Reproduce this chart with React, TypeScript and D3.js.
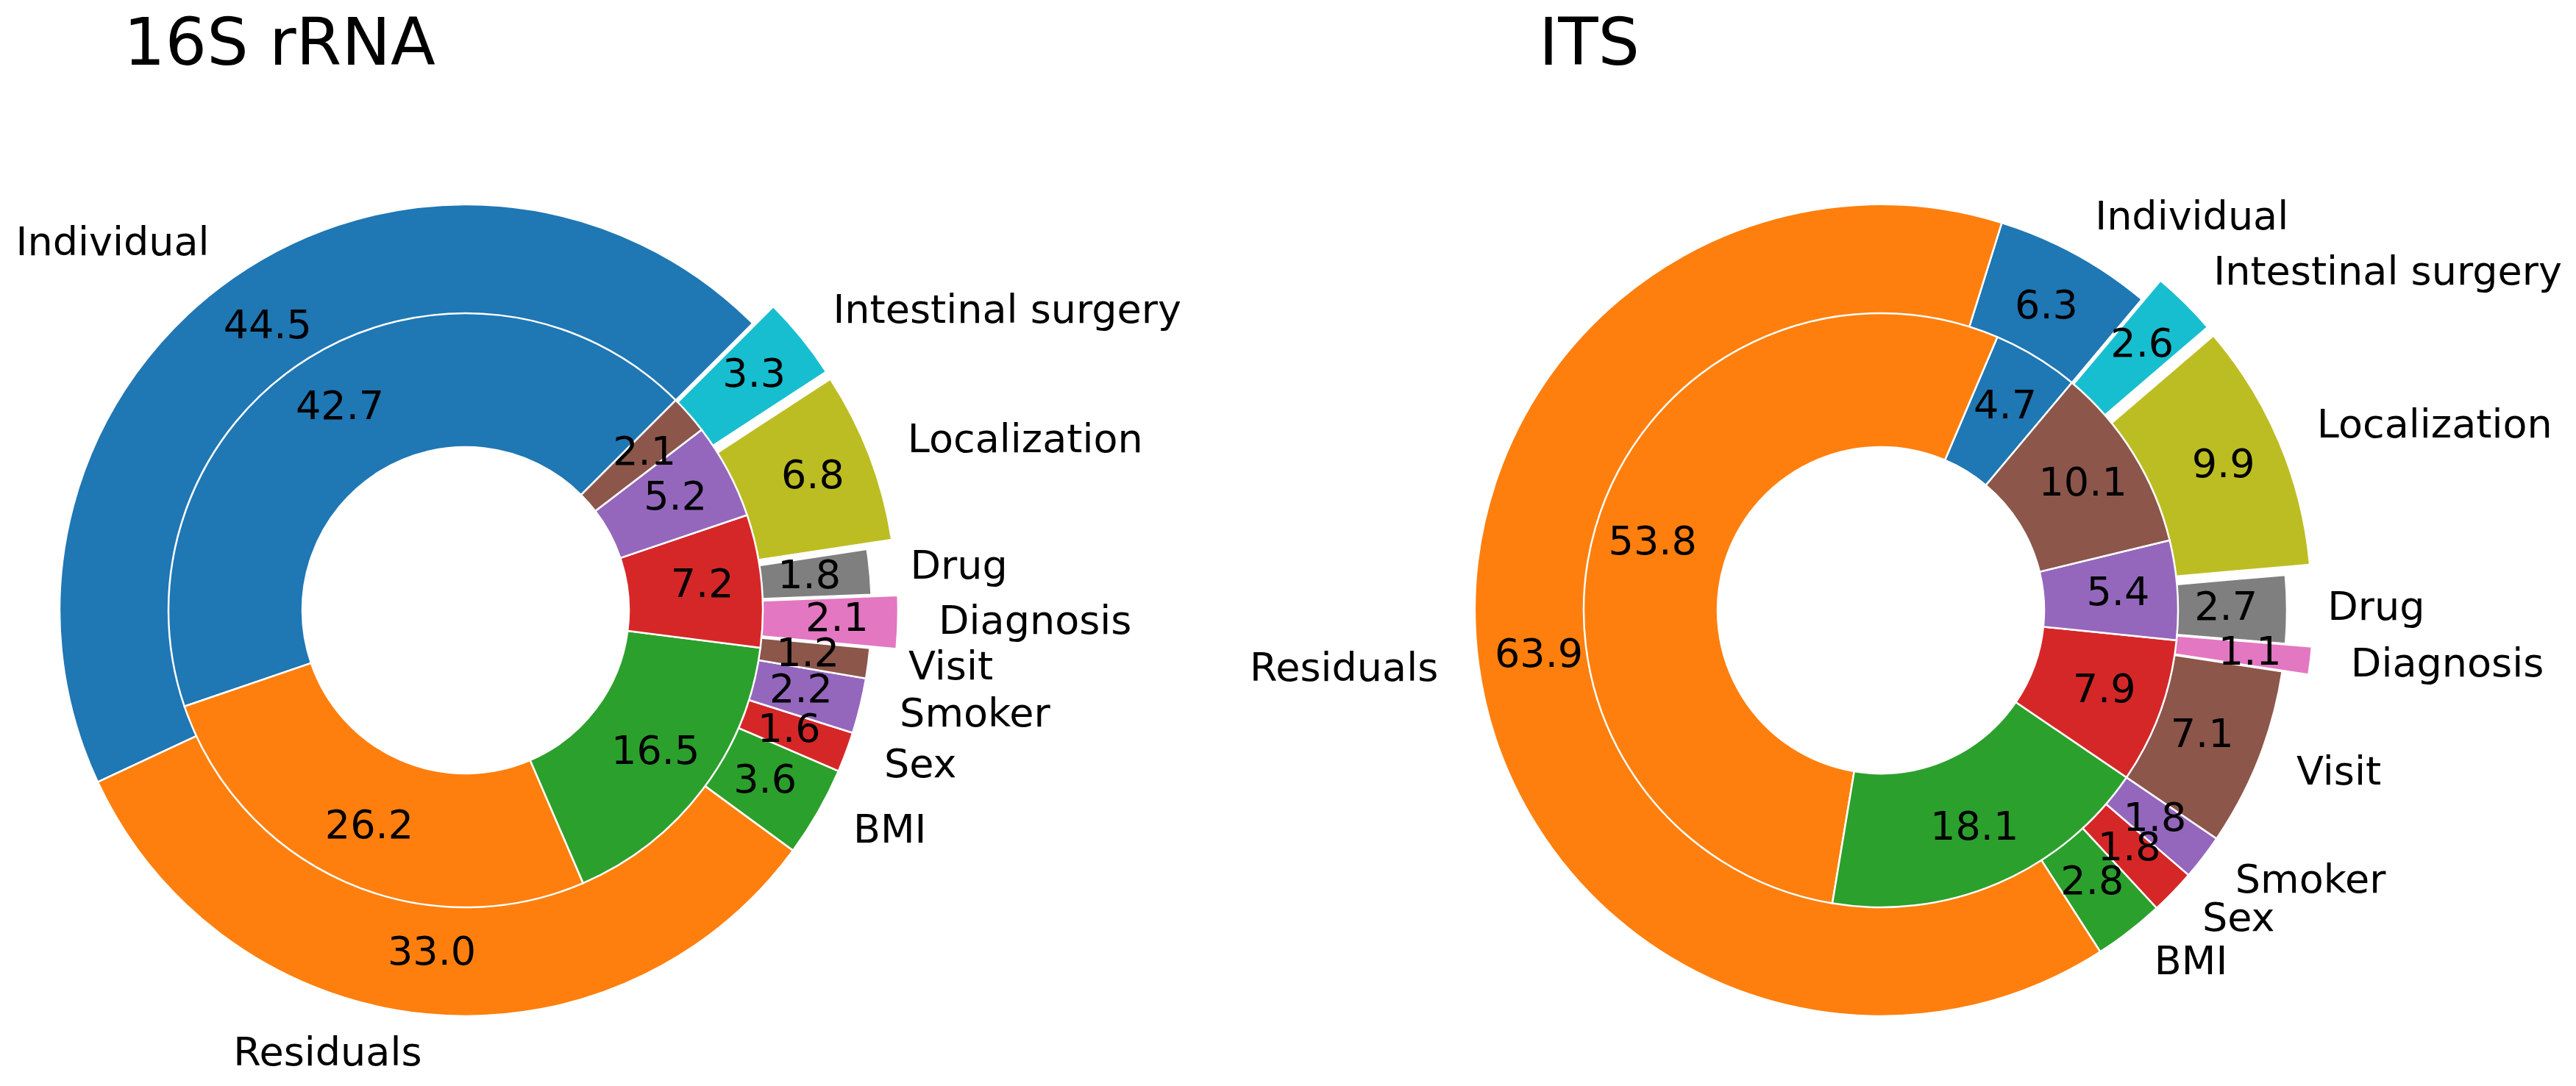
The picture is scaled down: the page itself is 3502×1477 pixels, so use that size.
import React from 'react';
import * as d3 from 'd3';

// wedge order is the same in both rings of both pies (counter-clockwise)
const categories = [
  'Individual', 'Residuals', 'BMI', 'Sex', 'Smoker',
  'Visit', 'Diagnosis', 'Drug', 'Localization', 'Intestinal surgery',
];
const titles = ['16S rRNA', 'ITS'];

const outer16S = [44.5, 33.0, 3.6, 1.6, 2.2, 1.2, 2.1, 1.8, 6.8, 3.3];
const inner16S = [42.7, 26.2, 16.5, 7.2, 5.2, 2.1];
const outerITS = [6.3, 63.9, 2.8, 1.8, 1.8, 7.1, 1.1, 2.7, 9.9, 2.6];
const innerITS = [4.7, 53.8, 18.1, 7.9, 5.4, 10.1];

const exploded = ['Diagnosis', 'Localization', 'Intestinal surgery'];
const startAngles = [45, 50]; // degrees, matplotlib convention

const tab10 = d3.schemeCategory10;

const W = 3502;
const H = 1477;
const R = 552;
const R_MID = 404;
const R_HOLE = 222;
const EXPLODE = 36;
const FS = 54;
const FONT = 'DejaVu Sans, sans-serif';

const PiePanel: React.FC<{ cx: number; cy: number; title: string; outer: number[]; inner: number[]; start: number }> = ({ cx, cy, title, outer, inner, start }) => {
  const a0 = ((90 - start) * Math.PI) / 180;
  const pie = d3.pie<number>().sort(null).value((d) => d).startAngle(a0).endAngle(a0 - 2 * Math.PI);

  const outerArcs = pie(outer);
  const innerArcs = pie(inner);

  const outerArc = d3.arc<d3.PieArcDatum<number>>().innerRadius(R * 0.6).outerRadius(R);
  const innerArc = d3.arc<d3.PieArcDatum<number>>().innerRadius(R_HOLE).outerRadius(R_MID);

  const mid = (d: d3.PieArcDatum<number>) => (d.startAngle + d.endAngle) / 2;
  const pos = (a: number, r: number): [number, number] => [r * Math.sin(a), -r * Math.cos(a)];

  return (
    <g transform={`translate(${cx},${cy})`}>
      <text x={-465} y={88 - cy} fontSize={89} fontFamily={FONT} fill="#000">{title}</text>
      {outerArcs.map((d, i) => {
        const shift = exploded.includes(categories[i]) ? EXPLODE : 0;
        const [dx, dy] = pos(mid(d), shift);
        return (
          <path key={'o' + i} d={outerArc(d)!} transform={`translate(${dx},${dy})`}
            fill={tab10[i]} stroke="#fff" strokeWidth={2.5} />
        );
      })}
      {innerArcs.map((d, i) => (
        <path key={'i' + i} d={innerArc(d)!} fill={tab10[i]} stroke="#fff" strokeWidth={2.5} />
      ))}
      {outerArcs.map((d, i) => {
        const shift = exploded.includes(categories[i]) ? EXPLODE : 0;
        const [x, y] = pos(mid(d), R * 0.85 + shift);
        return (
          <text key={'op' + i} x={x} y={y} dy="0.27em" textAnchor="middle" fontSize={FS} fontFamily={FONT} fill="#000">
            {d.data.toFixed(1)}
          </text>
        );
      })}
      {innerArcs.map((d, i) => {
        const [x, y] = pos(mid(d), R_MID * 0.8);
        return (
          <text key={'ip' + i} x={x} y={y} dy="0.27em" textAnchor="middle" fontSize={FS} fontFamily={FONT} fill="#000">
            {d.data.toFixed(1)}
          </text>
        );
      })}
      {outerArcs.map((d, i) => {
        const shift = exploded.includes(categories[i]) ? EXPLODE : 0;
        const [x, y] = pos(mid(d), R * 1.1 + shift);
        return (
          <text key={'l' + i} x={x} y={y} dy="0.27em" textAnchor={x > 0 ? 'start' : 'end'} fontSize={FS} fontFamily={FONT} fill="#000">
            {categories[i]}
          </text>
        );
      })}
    </g>
  );
};

const App: React.FC = () => {
  const centersX = [633, 2557];
  const cy = 830;
  return (
    <svg width={W} height={H} style={{ position: 'absolute', left: 0, top: 0, background: '#fff' }}>
      <rect width={W} height={H} fill="#fff" />
      <PiePanel cx={centersX[0]} cy={cy} title={titles[0]} outer={outer16S} inner={inner16S} start={startAngles[0]} />
      <PiePanel cx={centersX[1]} cy={cy} title={titles[1]} outer={outerITS} inner={innerITS} start={startAngles[1]} />
    </svg>
  );
};

export default App;
